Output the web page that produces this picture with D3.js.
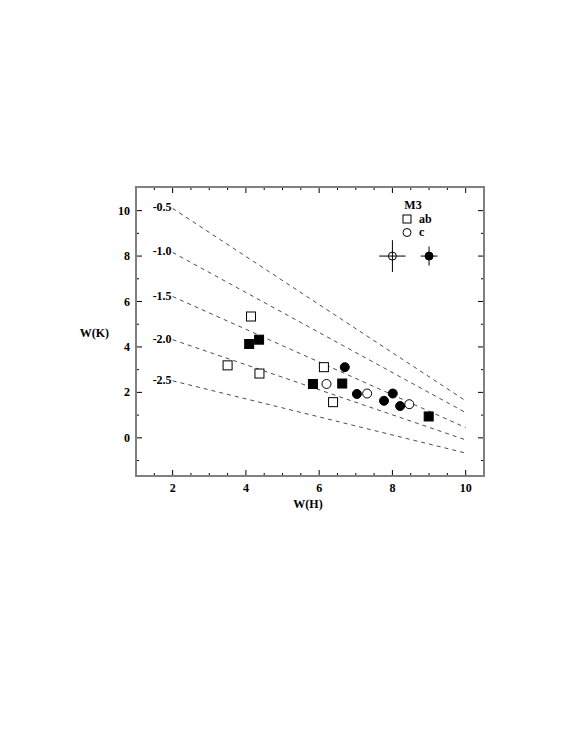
<!DOCTYPE html>
<html>
<head>
<meta charset="utf-8">
<script src="https://cdn.jsdelivr.net/npm/d3@7"></script>
<style>
  body { margin: 0; background: #fff; }
  svg text { font-family: "Liberation Serif", "DejaVu Serif", serif; font-weight: bold; }
</style>
</head>
<body>
<div id="svg-holder"></div>
<script>
var width = 578;
var height = 748;

// dashed reference lines: label, W(K) at W(H)=2 and at W(H)=10
var lineLabels = ["-0.5", "-1.0", "-1.5", "-2.0", "-2.5"];
var lineStart = [10.1, 8.16, 6.22, 4.32, 2.51];
var lineEnd = [1.63, 1.11, 0.45, -0.09, -0.67];

// ab stars: open and filled squares
var abOpenH = [4.14, 3.5, 4.37, 6.13, 6.38];
var abOpenK = [5.34, 3.19, 2.83, 3.11, 1.57];
var abFillH = [4.09, 4.36, 5.83, 6.63, 8.99];
var abFillK = [4.13, 4.32, 2.37, 2.39, 0.94];

// c stars: open and filled circles
var cOpenH = [6.2, 7.31, 8.46];
var cOpenK = [2.37, 1.95, 1.48];
var cFillH = [6.7, 7.03, 7.77, 8.01, 8.21];
var cFillK = [3.11, 1.93, 1.63, 1.95, 1.4];

// typical error bars
var errH = [8.0, 9.0];
var errK = [8.0, 8.0];
var errDH = [0.36, 0.23];
var errDK = [0.7, 0.42];
var errFill = ["none", "#000"];

var xTicks = [2, 4, 6, 8, 10];
var yTicks = [0, 2, 4, 6, 8, 10];

var svg = d3.select('#svg-holder').append('svg')
    .attr("width", width)
    .attr("height", height);

var pLeft = 136, pRight = 484, pTop = 187, pBottom = 476;

var x = d3.scaleLinear().domain([1, 10.5]).range([pLeft, pRight]);
var y = d3.scaleLinear().domain([-1.68, 11.04]).range([pBottom, pTop]);

var frameColor = "#808080";

// minor/major ticks on all four sides, pointing inward
var xMinor = d3.range(1.5, 10.5, 0.5);
var yMinor = d3.range(-1, 11, 1);

function isMajorX(d) { return xTicks.indexOf(d) >= 0; }
function isMajorY(d) { return yTicks.indexOf(d) >= 0; }

var ticks = svg.append("g").attr("stroke", "#000").attr("stroke-width", 1);
xMinor.forEach(function(d) {
    var len = isMajorX(d) ? 6 : 3;
    ticks.append("line").attr("x1", x(d)).attr("x2", x(d)).attr("y1", pBottom).attr("y2", pBottom - len);
    ticks.append("line").attr("x1", x(d)).attr("x2", x(d)).attr("y1", pTop).attr("y2", pTop + len);
});
yMinor.forEach(function(d) {
    var len = isMajorY(d) ? 6 : 3;
    ticks.append("line").attr("y1", y(d)).attr("y2", y(d)).attr("x1", pLeft).attr("x2", pLeft + len);
    ticks.append("line").attr("y1", y(d)).attr("y2", y(d)).attr("x1", pRight).attr("x2", pRight - len);
});

// frame
svg.append("rect")
    .attr("x", pLeft).attr("y", pTop)
    .attr("width", pRight - pLeft).attr("height", pBottom - pTop)
    .attr("fill", "none")
    .attr("stroke", frameColor)
    .attr("stroke-width", 2);

// tick labels
svg.selectAll(".xl").data(xTicks).enter().append("text")
    .attr("x", function(d) { return x(d); })
    .attr("y", 492)
    .attr("text-anchor", "middle")
    .attr("font-size", 12)
    .text(function(d) { return d; });

svg.selectAll(".yl").data(yTicks).enter().append("text")
    .attr("x", 130)
    .attr("y", function(d) { return y(d) + 4; })
    .attr("text-anchor", "end")
    .attr("font-size", 12)
    .text(function(d) { return d; });

// axis titles
svg.append("text").attr("x", 308).attr("y", 508)
    .attr("text-anchor", "middle").attr("font-size", 12).text("W(H)");
svg.append("text").attr("x", 109).attr("y", 337)
    .attr("text-anchor", "end").attr("font-size", 12).text("W(K)");

// dashed lines
lineLabels.forEach(function(lab, i) {
    svg.append("line")
        .attr("x1", x(2)).attr("y1", y(lineStart[i]))
        .attr("x2", x(10)).attr("y2", y(lineEnd[i]))
        .attr("stroke", "#000")
        .attr("stroke-width", 0.7)
        .attr("stroke-dasharray", "4,4");
    svg.append("text")
        .attr("x", x(2) - 1)
        .attr("y", y(lineStart[i]) + 3)
        .attr("text-anchor", "end")
        .attr("font-size", 12)
        .text(lab);
});

var sq = 9;
function squares(hs, ks, fill) {
    svg.selectAll(null).data(hs).enter().append("rect")
        .attr("x", function(d) { return x(d) - sq / 2; })
        .attr("y", function(d, i) { return y(ks[i]) - sq / 2; })
        .attr("width", sq).attr("height", sq)
        .attr("fill", fill)
        .attr("stroke", "#000")
        .attr("stroke-width", 1);
}
function circles(hs, ks, fill) {
    svg.selectAll(null).data(hs).enter().append("circle")
        .attr("cx", function(d) { return x(d); })
        .attr("cy", function(d, i) { return y(ks[i]); })
        .attr("r", 4.5)
        .attr("fill", fill)
        .attr("stroke", "#000")
        .attr("stroke-width", 1);
}
squares(abOpenH, abOpenK, "#fff");
squares(abFillH, abFillK, "#000");
circles(cOpenH, cOpenK, "#fff");
circles(cFillH, cFillK, "#000");

// error bars
errH.forEach(function(h, i) {
    svg.append("line")
        .attr("x1", x(h - errDH[i])).attr("x2", x(h + errDH[i]))
        .attr("y1", y(errK[i])).attr("y2", y(errK[i]))
        .attr("stroke", "#000");
    svg.append("line")
        .attr("x1", x(h)).attr("x2", x(h))
        .attr("y1", y(errK[i] - errDK[i])).attr("y2", y(errK[i] + errDK[i]))
        .attr("stroke", "#000");
    svg.append("circle")
        .attr("cx", x(h)).attr("cy", y(errK[i]))
        .attr("r", 4)
        .attr("fill", errFill[i])
        .attr("stroke", "#000");
});

// legend
var legend = svg.append("g");
legend.append("text").attr("x", 413).attr("y", 209)
    .attr("text-anchor", "middle").attr("font-size", 12).text("M3");
legend.append("rect").attr("x", 403).attr("y", 215).attr("width", 8).attr("height", 8)
    .attr("fill", "#fff").attr("stroke", "#000");
legend.append("text").attr("x", 419).attr("y", 223).attr("font-size", 12).text("ab");
legend.append("circle").attr("cx", 407).attr("cy", 232.5).attr("r", 4)
    .attr("fill", "#fff").attr("stroke", "#000");
legend.append("text").attr("x", 419).attr("y", 236).attr("font-size", 12).text("c");
</script>
</body>
</html>
